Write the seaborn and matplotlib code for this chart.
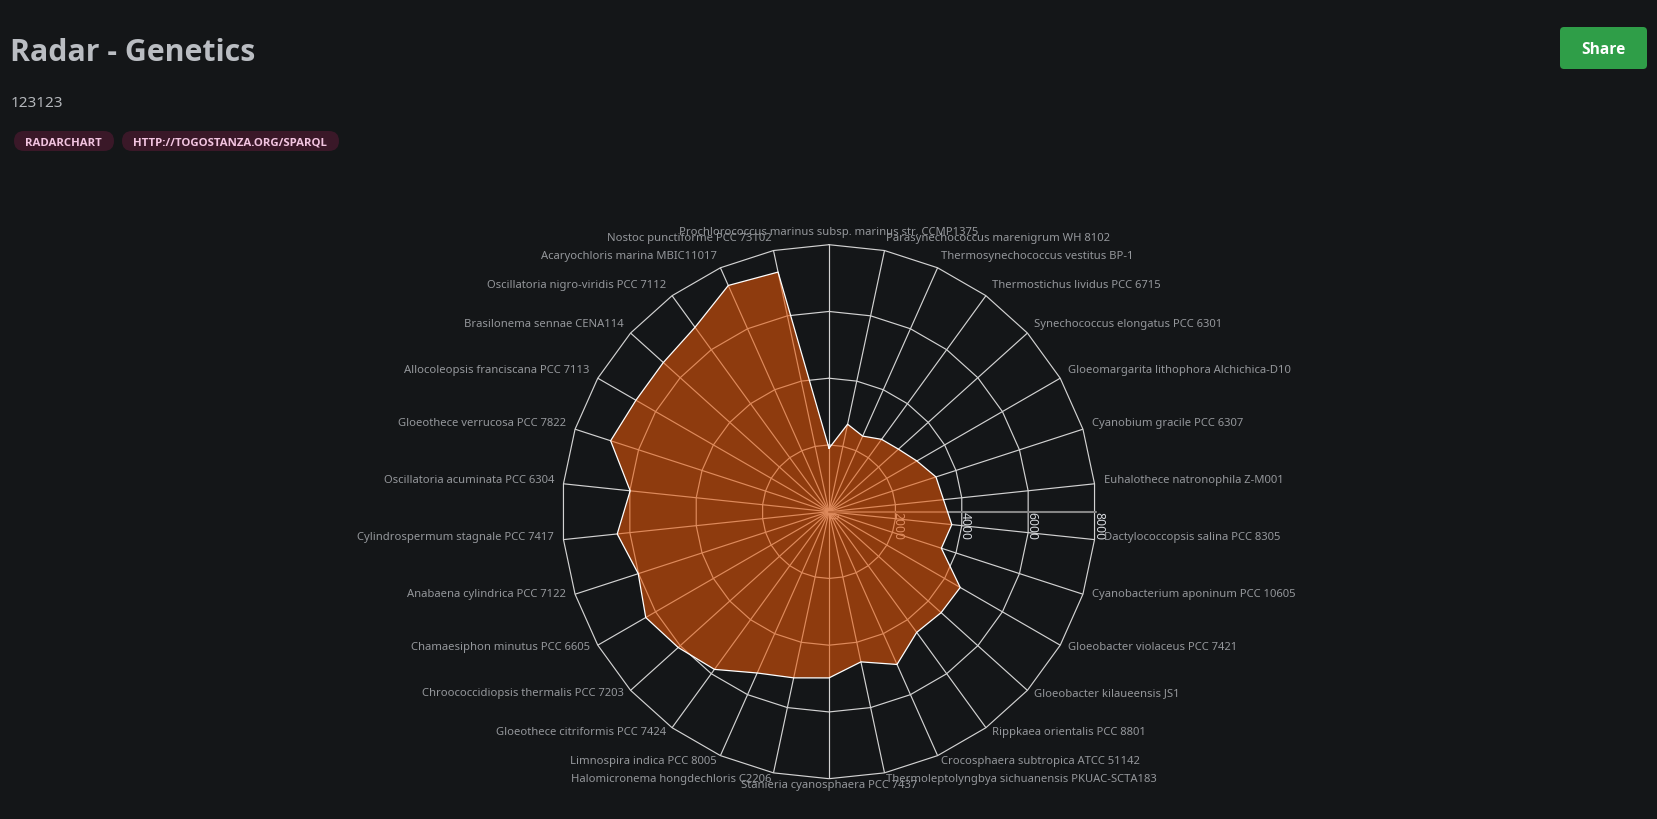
import numpy as np
import pandas as pd
import matplotlib
matplotlib.use("Agg")
import matplotlib.pyplot as plt
import seaborn as sns
from matplotlib.patches import FancyBboxPatch
from matplotlib.transforms import IdentityTransform

species = [
    "Prochlorococcus marinus subsp. marinus str. CCMP1375", "Parasynechococcus marenigrum WH 8102",
    "Thermosynechococcus vestitus BP-1", "Thermostichus lividus PCC 6715",
    "Synechococcus elongatus PCC 6301", "Gloeomargarita lithophora Alchichica-D10",
    "Cyanobium gracile PCC 6307", "Euhalothece natronophila Z-M001",
    "Dactylococcopsis salina PCC 8305", "Cyanobacterium aponinum PCC 10605",
    "Gloeobacter violaceus PCC 7421", "Gloeobacter kilaueensis JS1",
    "Rippkaea orientalis PCC 8801", "Crocosphaera subtropica ATCC 51142",
    "Thermoleptolyngbya sichuanensis PKUAC-SCTA183", "Stanieria cyanosphaera PCC 7437",
    "Halomicronema hongdechloris C2206", "Limnospira indica PCC 8005",
    "Gloeothece citriformis PCC 7424", "Chroococcidiopsis thermalis PCC 7203",
    "Chamaesiphon minutus PCC 6605", "Anabaena cylindrica PCC 7122",
    "Cylindrospermum stagnale PCC 7417", "Oscillatoria acuminata PCC 6304",
    "Gloeothece verrucosa PCC 7822", "Allocoleopsis franciscana PCC 7113",
    "Brasilonema sennae CENA114", "Oscillatoria nigro-viridis PCC 7112",
    "Acaryochloris marina MBIC11017", "Nostoc punctiforme PCC 73102",
]
gene_counts = [
    1900, 2680, 2480, 2680, 2800, 3040, 3370, 3450, 3700, 3540,
    4540, 4520, 4470, 5010, 4600, 4980, 5090, 5290, 5840, 6080,
    6340, 6010, 6380, 5990, 6880, 6680, 6680, 6830, 7420, 7340,
]
radial_ticks = [0, 2000, 4000, 6000, 8000]
tags = ["RADARCHART", "HTTP://TOGOSTANZA.ORG/SPARQL"]

W, H = 1658, 819
BG = "#141618"
GRID = "#d2d2d2"

sns.set_theme(style="dark")
plt.rcParams["font.family"] = ["Noto Sans", "DejaVu Sans"]
BOLD = ["Open Sans", "DejaVu Sans"]

fig = plt.figure(figsize=(W / 100, H / 100), dpi=100, facecolor=BG)
cx, cy, rad = 829, 511.7, 267
ax = fig.add_axes([(cx - rad) / W, 1 - (cy + rad) / H, 2 * rad / W, 2 * rad / H], projection="polar")
ax.set_facecolor("none")
ax.set_theta_zero_location("N")
ax.set_theta_direction(-1)

angles = np.deg2rad(np.arange(len(species)) * 360 / len(species))
closed = np.append(angles, angles[0])

# spokes
ax.set_xticks(angles)
ax.set_xticklabels([])
ax.xaxis.grid(True, color=GRID, linewidth=0.85)
ax.yaxis.grid(False)
ax.set_yticks([])
ax.tick_params(length=0)
ax.spines["polar"].set_visible(False)

# straight-sided rings rather than circles
for level in radial_ticks[1:]:
    ring = pd.DataFrame({"theta": closed, "r": level})
    sns.lineplot(data=ring, x="theta", y="r", sort=False, estimator=None, color=GRID,
                 linewidth=0.85, ax=ax, zorder=1, clip_on=False)

ax.plot([np.pi / 2, np.pi / 2], [radial_ticks[0], radial_ticks[-1]], color="#858585",
        linewidth=1.5, zorder=1.5, clip_on=False)
for level in radial_ticks:
    ax.annotate(str(level), (np.pi / 2, level), xytext=(-4, 0), textcoords="offset pixels",
                rotation=-90, ha="left", va="top", fontsize=8.8, color="#d5d8dc",
                zorder=1, annotation_clip=False)

df = pd.DataFrame({"theta": closed, "genes": gene_counts + gene_counts[:1]})
ax.fill(df["theta"], df["genes"], color="#e85707", alpha=0.58, linewidth=0, zorder=3)
sns.lineplot(data=df, x="theta", y="genes", sort=False, estimator=None, color="white",
             linewidth=0.9, ax=ax, zorder=4, clip_on=False)
ax.set_rlim(0, 8000)
ax.set_xlabel("")
ax.set_ylabel("")

for name, a in zip(species, angles):
    s, c = np.sin(a), np.cos(a)
    ha = "center" if abs(s) < 1e-6 else ("left" if s > 0 else "right")
    ax.annotate(name, (a, 8000), xytext=(9.5 * s, 2.75 + 9.25 * c), textcoords="offset pixels",
                ha=ha, va="center", fontsize=8.1, color="#94979b", annotation_clip=False, zorder=5)

# page header around the chart
def px_text(x, y, s, **kw):
    fig.text(x / W, 1 - y / H, s, **kw)

def pill(x0, y0, x1, y1, r, color):
    fig.add_artist(FancyBboxPatch((x0 + r, H - y1 + r), x1 - x0 - 2 * r, y1 - y0 - 2 * r,
                                  boxstyle=f"round,pad={r},rounding_size={r}", facecolor=color,
                                  edgecolor="none", transform=IdentityTransform()))

px_text(10.5, 61, "Radar - Genetics", fontsize=21.8, fontweight="bold", family=BOLD, color="#babdc2", va="baseline")
px_text(10.5, 107, "123123", fontsize=11, color="#b4b7bb", va="baseline")

pill(14, 131, 114, 151, 10, "#3a1828")
pill(122, 131, 339, 151, 10, "#3a1828")
px_text(63.5, 145.5, tags[0], fontsize=8.2, fontweight="bold", family=BOLD, color="#f2c4e0", ha="center", va="baseline")
px_text(230, 145.5, tags[1], fontsize=8.2, fontweight="bold", family=BOLD, color="#f2c4e0", ha="center", va="baseline")

pill(1560, 27, 1647, 69, 4, "#2f9e48")
px_text(1603.5, 54, "Share", fontsize=11.2, fontweight="bold", family=BOLD, color="white", ha="center", va="baseline")

fig.savefig("out.png", dpi=100, facecolor=BG)
